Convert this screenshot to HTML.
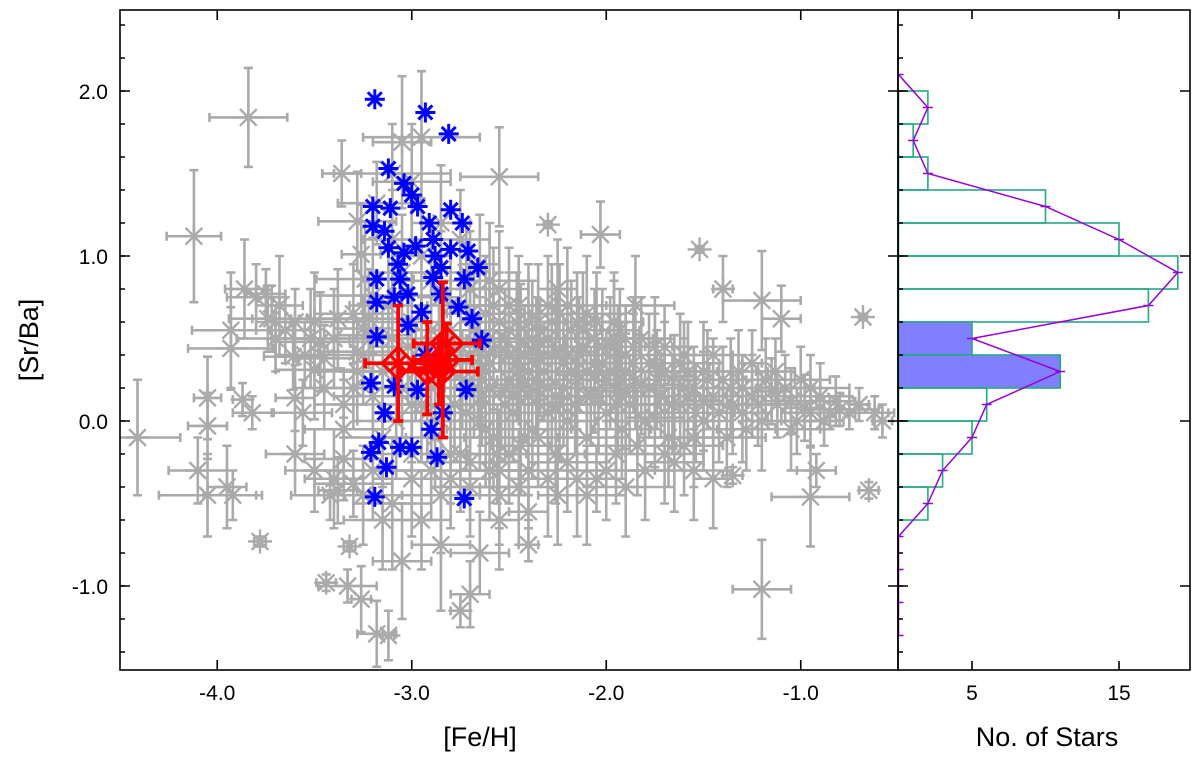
<!DOCTYPE html>
<html><head><meta charset="utf-8"><style>
html,body{margin:0;padding:0;background:#fff;}
svg{display:block;font-family:"Liberation Sans",Arial,sans-serif;}
</style></head><body>
<svg id="chart" width="1200" height="758" viewBox="0 0 1200 758" xmlns="http://www.w3.org/2000/svg">
<defs>
<clipPath id="mainClip"><rect x="120" y="10" width="778" height="660"/></clipPath>
<clipPath id="histClip"><rect x="898" y="10" width="292" height="660"/></clipPath>
</defs>
<g id="grey" clip-path="url(#mainClip)"></g>
<g id="blue" clip-path="url(#mainClip)"></g>
<g id="red" clip-path="url(#mainClip)"></g>
<g id="hist" clip-path="url(#histClip)"></g>
<g id="axes"></g>
<text x="480" y="746" font-size="27" text-anchor="middle">[Fe/H]</text>
<text x="0" y="0" font-size="27" text-anchor="middle" transform="translate(38,340) rotate(-90)">[Sr/Ba]</text>
<text x="1047" y="746" font-size="27" text-anchor="middle">No. of Stars</text>
</svg>
<script>
const xTicks=[-4.0,-3.0,-2.0,-1.0];
const xTickLabels=["-4.0","-3.0","-2.0","-1.0"];
const yTicks=[2.0,1.0,0.0,-1.0];
const yTickLabels=["2.0","1.0","0.0","-1.0"];
const histTicks=[5,15];
const histTickLabels=["5","15"];
// histogram bins (lower edge) and counts
const binLows=[1.8,1.6,1.4,1.2,1.0,0.8,0.6,0.4,0.2,0.0,-0.2,-0.4,-0.6];
const binCounts=[2,1,2,10,15,19,17,5,11,6,5,3,2];
const binFilled=[0,0,0,0,0,0,0,1,1,0,0,0,0];
const curveY=[2.1,1.9,1.7,1.5,1.3,1.1,0.9,0.7,0.5,0.3,0.1,-0.1,-0.3,-0.5,-0.7,-0.9,-1.1,-1.3];
const curveN=[0,2,1,2,10,15,19,17,5,11,6,5,3,2,0,0,0,0];
// blue stars [Fe/H, Sr/Ba]
const blueFe=[-3.19,-2.93,-2.81,-3.12,-3.04,-3.0,-3.2,-3.11,-2.97,-2.8,-3.2,-3.14,-2.91,-2.74,-2.89,-3.12,-3.04,-2.8,-2.71,-2.85,-2.66,-3.18,-3.06,-2.89,-2.73,-3.18,-3.09,-3.02,-2.85,-2.76,-2.95,-2.69,-3.18,-2.64,-3.21,-3.09,-2.97,-2.72,-3.14,-2.84,-2.9,-3.17,-3.06,-3.0,-3.21,-3.13,-2.87,-3.19,-2.73,-3.07,-2.98,-2.88,-3.02,-2.93];
const blueSrBa=[1.95,1.87,1.74,1.53,1.44,1.37,1.30,1.29,1.30,1.28,1.18,1.15,1.20,1.20,1.10,1.05,1.02,1.04,1.03,0.93,0.93,0.86,0.86,0.87,0.86,0.72,0.75,0.77,0.77,0.69,0.66,0.62,0.51,0.49,0.23,0.21,0.19,0.19,0.05,0.05,-0.05,-0.13,-0.16,-0.16,-0.19,-0.28,-0.22,-0.46,-0.47,0.95,1.06,1.00,0.58,0.40];
// red stars [Fe/H, Sr/Ba, errFe, errSrBa]
const redStars=[[-3.07,0.35,0.17,0.35],[-2.84,0.37,0.15,0.47],[-2.86,0.30,0.20,0.20],[-2.92,0.32,0.09,0.28],[-2.82,0.47,0.17,0.12]];
// grey stars [Fe/H, Sr/Ba, errFe, errSrBa]
const greyStars=[[-3.84,1.84,.2,.3],[-4.12,1.12,.14,.4],[-4.41,-0.10,.22,.35],[-4.05,-0.03,.1,.2],[-4.05,0.14,.07,.25],[-4.1,-0.3,.15,.2],[-4.05,-0.45,.25,.25],[-3.95,-0.40,.1,.25],[-3.92,-0.45,.15,.15],[-3.87,0.13,.05,.1],[-3.93,0.55,.2,.35],[-3.93,0.44,.22,.25],[-3.86,0.80,.1,.3],[-3.8,0.75,.15,.2],[-3.75,0.77,.1,.15],[-3.72,0.62,.1,.2],[-3.68,0.70,.12,.3],[-3.74,0.62,.2,.2],[-3.65,0.55,.15,.2],[-3.78,-0.73,.03,.03],[-3.82,0.05,.1,.1],[-3.61,0.39,.15,.2],[-3.60,0.14,.1,.2],[-3.56,0.05,.15,.2],[-3.50,0.31,.2,.3],[-3.47,0.48,.25,.3],[-3.45,0.38,.15,.2],[-3.42,-0.45,.2,.15],[-3.38,-0.42,.1,.2],[-3.40,-0.35,.15,.3],[-3.35,-0.23,.2,.25],[-3.30,-0.38,.2,.2],[-3.44,-0.98,.05,.05],[-3.33,-1.00,.15,.1],[-3.32,-0.76,.03,.03],[-3.26,-1.08,.05,.2],[-3.18,-1.29,.1,.2],[-3.12,-1.3,.03,.15],[-3.35,0.10,.15,.2],[-3.3,0.2,.2,.25],[-3.28,0.42,.2,.2],[-3.25,0.56,.15,.2],[-3.22,0.62,.3,.3],[-3.2,0.76,.3,.35],[-3.24,0.86,.25,.35],[-3.26,1.01,.1,.3],[-3.18,1.32,.2,.25],[-3.28,1.21,.2,.3],[-3.36,1.50,.1,.2],[-3.10,1.50,.3,.3],[-3.05,1.69,.15,.4],[-2.95,1.72,.3,.4],[-3.0,1.45,.2,.35],[-2.55,1.48,.2,.3],[-2.3,1.19,.02,.02],[-2.03,1.13,.1,.2],[-1.52,1.04,.02,.02],[-1.40,0.80,.05,.2],[-1.20,0.73,.2,.3],[-1.10,0.62,.1,.2],[-0.68,0.63,.02,.02],[-1.25,0.35,.05,.2],[-1.13,0.3,.1,.2],[-1.20,-1.02,.15,.3],[-0.95,-0.46,.2,.3],[-0.92,-0.30,.1,.1],[-0.85,0.05,.1,.1],[-0.80,0.07,.2,.1],[-0.75,0.05,.2,.1],[-0.70,0.10,.05,.1],[-0.62,0.05,.1,.1],[-0.58,0.0,.05,.1],[-0.65,-0.42,.05,.05],[-0.95,0.20,.2,.2],[-1.0,0.25,.15,.2],[-1.05,0.12,.15,.2],[-1.15,0.18,.1,.2],[-1.30,0.20,.2,.2],[-1.35,0.10,.1,.3],[-1.5,0.12,.1,.3],[-1.45,0.40,.1,.1],[-1.6,0.4,.1,.2],[-1.65,0.27,.1,.25],[-1.75,0.35,.2,.3],[-1.75,0.02,.15,.3],[-1.35,-0.33,.05,.05],[-1.45,-0.35,.1,.3],[-1.55,-0.10,.1,.3],[-1.6,-0.15,.2,.3],[-1.85,0.70,.2,.3],[-1.93,0.55,.1,.25],[-1.90,0.30,.2,.3],[-1.95,-0.2,.2,.3],[-2.05,-0.35,.15,.2],[-2.25,-0.45,.1,.3],[-2.4,-0.75,.05,.1],[-2.4,-0.55,.1,.1],[-2.65,-0.80,.15,.25],[-2.70,-1.05,.1,.2],[-2.75,-1.15,.05,.1],[-2.95,-0.6,.15,.3],[-3.1,-0.5,.2,.4],[-2.8,-0.35,.2,.3],[-2.6,-0.3,.2,.3],[-2.5,-0.2,.25,.3],[-2.35,-0.1,.25,.3],
[-3.0,0.6,.2,.3],[-2.95,0.45,.15,.3],[-2.9,0.2,.2,.3],[-2.88,-0.1,.15,.3],[-2.85,0.75,.1,.4],[-2.8,0.55,.2,.3],[-2.78,0.1,.15,.3],[-2.75,-0.2,.1,.35],[-2.72,0.9,.1,.3],[-2.7,0.4,.2,.3],[-2.68,0.2,.15,.3],[-2.65,0.0,.2,.3],[-2.62,0.65,.2,.35],[-2.6,0.35,.15,.3],[-2.58,-0.1,.15,.3],[-2.55,0.8,.15,.35],[-2.52,0.5,.2,.3],[-2.5,0.25,.2,.3],[-2.48,0.05,.2,.3],[-2.45,0.7,.15,.3],[-2.42,0.4,.15,.3],[-2.4,0.15,.2,.3],[-2.38,-0.05,.2,.3],[-2.35,0.6,.15,.35],[-2.32,0.3,.2,.3],[-2.3,0.5,.15,.3],[-2.28,0.1,.2,.3],[-2.25,0.8,.1,.3],[-2.22,0.35,.15,.3],[-2.2,0.0,.15,.3],[-2.18,0.55,.15,.3],[-2.15,0.25,.2,.3],[-2.12,0.45,.15,.25],[-2.1,-0.1,.15,.3],[-2.08,0.15,.15,.3],[-2.05,0.6,.15,.3],[-2.02,0.35,.2,.25],[-2.0,0.05,.2,.3],[-1.98,0.45,.15,.3],[-1.95,0.2,.2,.3],[-1.92,-0.05,.15,.3],[-1.9,0.4,.2,.3],[-1.88,0.1,.15,.3],[-1.85,0.25,.2,.3],[-1.82,0.5,.15,.25],[-1.8,0.0,.2,.3],[-1.78,0.2,.15,.3],[-1.72,0.15,.2,.25],[-1.7,0.45,.1,.25],[-1.68,-0.1,.15,.3],[-1.62,0.1,.2,.3],[-1.58,0.3,.15,.3],[-1.55,0.2,.15,.25],[-1.5,0.0,.15,.3],[-1.45,0.15,.2,.3],[-1.4,0.25,.1,.2],[-1.38,-0.1,.2,.3],[-1.3,0.05,.15,.3],[-1.25,0.15,.2,.25],[-1.2,0.0,.1,.3],[-1.12,0.10,.15,.2],[-1.05,-0.05,.15,.25],[-0.98,0.08,.1,.2],[-0.9,0.15,.15,.2],
[-2.98,0.3,.15,.3],[-2.92,0.05,.2,.3],[-2.86,0.45,.2,.3],[-2.8,-0.2,.15,.3],[-2.74,0.25,.2,.3],[-2.7,0.65,.15,.3],[-2.64,0.15,.2,.3],[-2.6,0.5,.2,.3],[-2.56,-0.2,.15,.3],[-2.5,0.4,.2,.3],[-2.46,0.6,.2,.3],[-2.44,-0.15,.15,.3],[-2.4,0.3,.2,.3],[-2.36,0.45,.15,.3],[-2.3,0.2,.2,.3],[-2.26,-0.2,.15,.3],[-2.24,0.65,.15,.3],[-2.2,0.4,.2,.3],[-2.16,0.1,.2,.3],[-2.1,0.3,.2,.3],[-2.06,0.5,.15,.3],[-2.0,0.25,.2,.3],[-1.96,0.6,.15,.3],[-1.94,0.1,.2,.3],[-1.86,0.35,.15,.3],[-1.84,-0.15,.2,.3],[-2.9,-0.3,.2,.3],[-2.7,-0.4,.2,.3],[-2.55,-0.45,.15,.3],[-2.4,-0.3,.2,.3],[-2.2,-0.25,.2,.3],[-2.0,-0.3,.2,.3],[-1.8,-0.3,.15,.3],[-1.65,-0.25,.15,.3],
[-3.3,0.65,.2,.3],[-3.25,0.4,.2,.3],[-3.2,0.15,.2,.3],[-3.15,-0.1,.2,.3],[-3.1,0.5,.2,.3],[-3.05,0.2,.2,.3],[-3.05,0.9,.15,.35],[-3.1,1.1,.15,.3],[-2.95,1.0,.15,.35],[-2.85,1.2,.15,.35],[-2.75,1.1,.15,.3],[-2.65,0.95,.1,.3],[-3.35,-0.05,.2,.3],[-3.4,0.5,.2,.3],[-3.5,0.6,.2,.3],[-3.55,0.4,.15,.2],[-3.45,0.2,.15,.25],[-3.2,-0.3,.2,.3],[-3.0,-0.2,.2,.3],[-3.6,0.6,.2,.2],[-3.7,0.5,.2,.2],
[-2.6,0.2,.2,.3],[-2.45,0.3,.2,.3],[-2.35,0.15,.2,.3],[-2.55,0.6,.2,.3],[-2.15,0.6,.2,.3],[-2.3,0.7,.15,.3],[-2.65,0.45,.2,.3],[-2.48,0.15,.2,.3],[-1.75,0.45,.15,.3],[-1.6,0.2,.2,.3],[-1.5,0.3,.15,.3],
[-2.62,0.3,.2,.35],[-2.58,0.42,.2,.35],[-2.54,0.18,.2,.35],[-2.5,0.55,.2,.35],[-2.46,0.35,.2,.35],[-2.42,0.22,.2,.35],[-2.38,0.5,.2,.35],[-2.34,0.38,.2,.35],[-2.3,0.05,.2,.35],[-2.26,0.42,.2,.35],[-2.22,0.2,.2,.35],[-2.18,0.3,.2,.35],[-2.14,0.4,.2,.35],[-2.1,0.15,.2,.35],[-2.06,0.28,.2,.35],[-2.02,0.45,.2,.35],[-1.98,0.3,.2,.35],[-1.94,0.35,.2,.35],[-1.9,0.18,.2,.35],[-1.86,0.45,.2,.3],[-1.82,0.22,.2,.3],[-1.78,0.35,.2,.3],[-1.74,0.25,.2,.3],[-1.7,0.3,.2,.3],[-1.66,0.1,.2,.3],[-1.62,0.35,.2,.3],[-1.58,0.15,.2,.3],[-1.54,0.05,.2,.3],[-1.48,0.25,.2,.3],[-1.42,0.05,.2,.3],[-1.36,0.2,.2,.3],[-1.32,0.3,.15,.25],[-1.28,-0.05,.15,.25],[-1.22,0.1,.15,.25],[-1.18,0.25,.15,.25],[-1.08,0.2,.15,.2],[-1.02,0.0,.15,.2],[-0.95,0.05,.15,.2],[-0.88,0.0,.1,.15],[-0.82,0.12,.1,.15],
[-2.95,0.1,.2,.35],[-2.9,0.55,.2,.35],[-2.85,0.0,.2,.35],[-2.8,0.3,.2,.35],[-2.75,0.45,.2,.35],[-2.72,0.05,.2,.35],[-2.68,0.55,.2,.35],[-2.66,0.3,.2,.35],[-2.62,-0.05,.2,.35],[-2.58,0.7,.2,.35],[-2.52,0.1,.2,.35],[-2.44,0.48,.2,.35],[-2.36,0.25,.2,.35],[-2.28,0.6,.2,.35],[-2.24,0.1,.2,.35],[-2.12,0.55,.2,.35],[-2.04,0.15,.2,.35],[-1.96,0.5,.2,.35],[-1.92,0.25,.2,.35],[-3.15,0.3,.2,.35],[-3.12,0.7,.2,.35],[-3.08,0.0,.2,.35],[-3.02,0.45,.2,.35],[-3.0,0.1,.2,.35],[-3.28,0.3,.2,.3],[-3.38,0.62,.2,.3],[-3.52,0.5,.2,.3],[-3.2,0.52,.2,.3],[-2.9,0.85,.2,.35],[-2.8,0.7,.2,.35],[-2.7,0.8,.2,.35],[-2.6,0.85,.2,.35],[-2.5,0.7,.2,.35],[-2.4,0.6,.2,.35],[-2.2,0.7,.2,.35],[-2.1,0.65,.2,.35],
[-3.0,-0.35,.2,.35],[-2.85,-0.45,.2,.35],[-2.7,-0.25,.2,.35],[-2.55,-0.3,.2,.35],[-2.45,-0.4,.2,.35],[-2.3,-0.35,.2,.35],[-2.15,-0.35,.2,.35],[-2.1,-0.45,.2,.3],[-1.9,-0.4,.2,.3],[-1.7,-0.2,.2,.3],[-1.55,-0.3,.2,.3],[-3.25,-0.45,.2,.3],[-3.15,-0.6,.2,.3],[-3.05,-0.85,.15,.35],[-2.85,-0.75,.15,.4],[-2.55,-0.6,.1,.3],[-3.5,-0.3,.15,.25],[-3.6,-0.2,.15,.25]];

const NS="http://www.w3.org/2000/svg";
const X=v=>120+(v+4.5)*194.5;
const Y=v=>421-v*165;
const HX=n=>898.5+n*14.7;
function mk(tag,attrs,parent){const e=document.createElementNS(NS,tag);for(const k in attrs)e.setAttribute(k,attrs[k]);parent.appendChild(e);return e;}
function star(g,cx,cy,r,color,w){
  const p=`M${cx-r},${cy}H${cx+r}M${cx},${cy-r}V${cy+r}M${cx-r*0.7},${cy-r*0.7}L${cx+r*0.7},${cy+r*0.7}M${cx-r*0.7},${cy+r*0.7}L${cx+r*0.7},${cy-r*0.7}`;
  return mk('path',{d:p,stroke:color,'stroke-width':w,fill:'none'},g);
}
function errbar(g,fe,sr,xe,ye,color,w,cap){
  const cx=X(fe),cy=Y(sr);
  const x1=X(fe-xe),x2=X(fe+xe),y1=Y(sr+ye),y2=Y(sr-ye);
  const p=`M${x1},${cy}H${x2}M${cx},${y1}V${y2}M${x1},${cy-cap}V${cy+cap}M${x2},${cy-cap}V${cy+cap}M${cx-cap},${y1}H${cx+cap}M${cx-cap},${y2}H${cx+cap}`;
  return mk('path',{d:p,stroke:color,'stroke-width':w,fill:'none'},g);
}
const gG=document.getElementById('grey');
greyStars.forEach(s=>{
  const g=mk('g',{},gG);
  
  
  errbar(g,s[0],s[1],s[2],s[3],'#aaaaaa',2.6,4.5);
  star(g,X(s[0]),Y(s[1]),12,'#aaaaaa',2.4);
});
const gB=document.getElementById('blue');
blueFe.forEach((f,i)=>{
  const e=star(gB,X(f),Y(blueSrBa[i]),10,'#0000ff',3);
  
  
});
const gR=document.getElementById('red');
redStars.forEach(s=>{
  const g=mk('g',{},gR);
  
  
  errbar(g,s[0],s[1],s[2],s[3],'#ff0000',3.8,5);
  const cx=X(s[0]),cy=Y(s[1]);
  mk('path',{d:`M${cx},${cy-16}L${cx+16},${cy}L${cx},${cy+16}L${cx-16},${cy}Z`,stroke:'#ff0000','stroke-width':3.2,fill:'none'},g);
  star(g,cx,cy,12,'#ff0000',3.2);
});
mk('circle',{cx:X(-2.86),cy:Y(0.33),r:12,fill:'#ff0000'},gR);

const gH=document.getElementById('hist');
binLows.forEach((lo,i)=>{
  const r=mk('rect',{x:HX(0),y:Y(lo+0.2),width:HX(binCounts[i])-HX(0),height:Y(lo)-Y(lo+0.2),fill:binFilled[i]?'#8080ff':'none',stroke:'#22aa88','stroke-width':1.6},gH);
  
  
});
const pts=curveY.map((y,i)=>HX(curveN[i])+','+Y(y)).join(' ');
const pl=mk('polyline',{points:pts,fill:'none',stroke:'#9900dd','stroke-width':1.5},gH);


curveY.forEach((y,i)=>{
  const t=mk('path',{d:`M${HX(curveN[i])-5},${Y(y)}H${HX(curveN[i])+5}`,stroke:'#9900dd','stroke-width':1.5},gH);
  
  
});

const gA=document.getElementById('axes');
mk('rect',{x:120,y:10,width:778,height:660,fill:'none',stroke:'#000','stroke-width':1.6},gA);
mk('rect',{x:898,y:10,width:292,height:660,fill:'none',stroke:'#000','stroke-width':1.6},gA);
xTicks.forEach((v,i)=>{
  const x=X(v);
  mk('path',{d:`M${x},670v-10M${x},10v10`,stroke:'#000','stroke-width':1.6},gA);
  const t=mk('text',{x:x,y:700,'font-size':21,'text-anchor':'middle'},gA);t.textContent=xTickLabels[i];
  
  
});
for(let v=-1.4;v<=2.41;v+=0.2){const y=Y(v);mk('path',{d:`M120,${y}h5M898,${y}h5`,stroke:'#000','stroke-width':1.4},gA);}
yTicks.forEach((v,i)=>{
  const y=Y(v);
  mk('path',{d:`M120,${y}h10M888,${y}h10M898,${y}h10M1190,${y}h-10`,stroke:'#000','stroke-width':1.6},gA);
  const t=mk('text',{x:108,y:y+8,'font-size':21,'text-anchor':'end'},gA);t.textContent=yTickLabels[i];
  
  
});
histTicks.forEach((v,i)=>{
  const x=HX(v);
  mk('path',{d:`M${x},670v-9M${x},10v9`,stroke:'#000','stroke-width':1.6},gA);
  const t=mk('text',{x:x,y:700,'font-size':21,'text-anchor':'middle'},gA);t.textContent=histTickLabels[i];
  
  
});
</script>
</body></html>
